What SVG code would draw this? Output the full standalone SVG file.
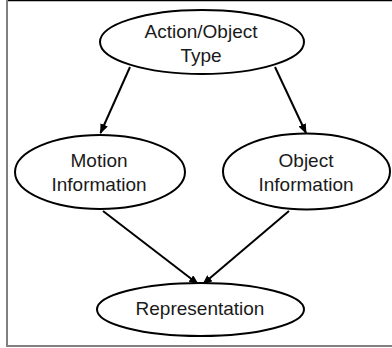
<svg xmlns="http://www.w3.org/2000/svg" width="392" height="348" viewBox="0 0 392 348">
<style>
.node{fill:#fff;stroke:#000;stroke-width:2}
.lbl{font-family:"Liberation Sans",Arial,sans-serif;font-size:19px;fill:#1a1a1a;text-anchor:middle}
.edge{stroke:#000;stroke-width:2;fill:none;marker-end:url(#arr)}
</style>
<defs>
<marker id="arr" markerWidth="10" markerHeight="8" refX="9" refY="4" orient="auto" markerUnits="userSpaceOnUse">
<path d="M0,0 L10,4 L0,8 Z" fill="#000"/>
</marker>
</defs>
<rect width="392" height="348" fill="#fff"/>
<line x1="7" y1="0.5" x2="392" y2="0.5" stroke="#000" stroke-width="1.5"/>
<line x1="7" y1="0" x2="7" y2="346" stroke="#808080" stroke-width="2"/>
<line x1="6" y1="346" x2="392" y2="346" stroke="#808080" stroke-width="2"/>
<g id="connectors">
<line class="edge" x1="130" y1="67" x2="100.5" y2="133"/>
<line class="edge" x1="275" y1="67" x2="306" y2="133"/>
<line class="edge" x1="103" y1="211" x2="198" y2="284"/>
<line class="edge" x1="289" y1="211" x2="203" y2="284"/>
</g>
<g id="action-object-type">
<ellipse class="node" cx="202" cy="42" rx="102" ry="32"/>
<text class="lbl" x="201" y="38">Action/Object</text>
<text class="lbl" x="201" y="62">Type</text>
</g>
<g id="motion-information">
<ellipse class="node" cx="100" cy="172" rx="85" ry="37"/>
<text class="lbl" x="99" y="167">Motion</text>
<text class="lbl" x="99" y="191">Information</text>
</g>
<g id="object-information">
<ellipse class="node" cx="306.5" cy="171.5" rx="83.5" ry="38"/>
<text class="lbl" x="306" y="167">Object</text>
<text class="lbl" x="306" y="191">Information</text>
</g>
<g id="representation">
<ellipse class="node" cx="200.5" cy="309.5" rx="103.5" ry="26.5"/>
<text class="lbl" x="200" y="315">Representation</text>
</g>
</svg>
